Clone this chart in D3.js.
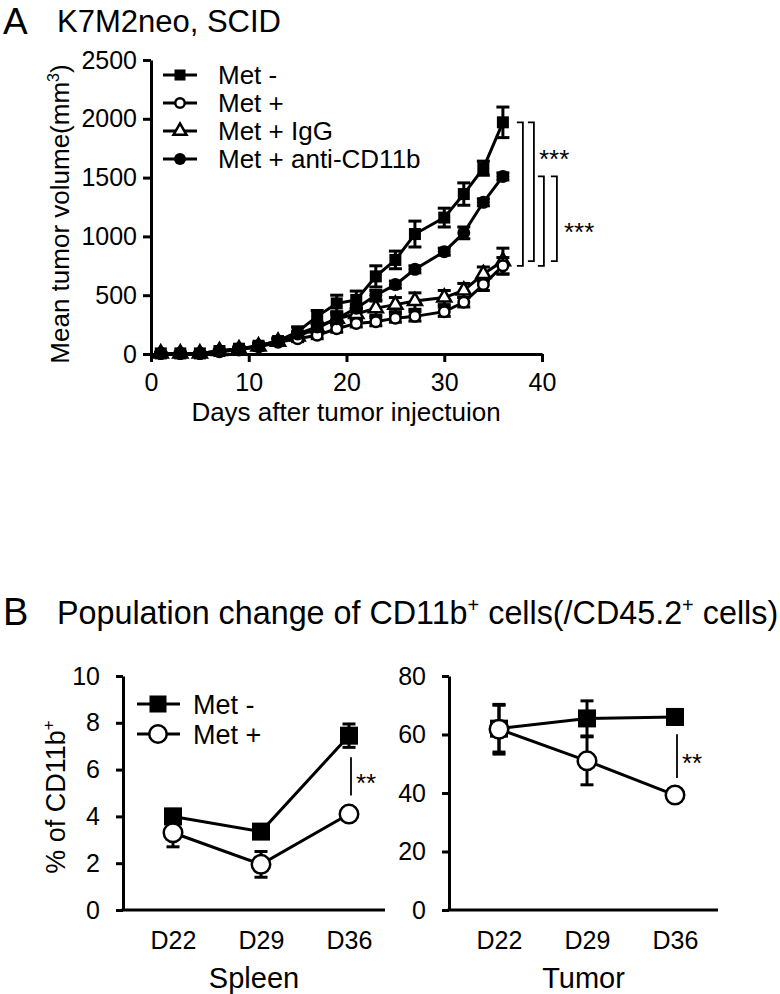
<!DOCTYPE html>
<html><head><meta charset="utf-8">
<script src="https://cdn.jsdelivr.net/npm/d3@7"></script>
<style>
body{margin:0;background:#fff}
svg{display:block}
text{font-family:"Liberation Sans",Arial,Helvetica,sans-serif;fill:#000}
</style>
</head><body>
<svg id="c" width="780" height="994"></svg>
<script>
// ---------- Panel A data ----------
const days = [1,3,5,7,9,11,13,15,17,19,21,23,25,27,30,32,34,36];
const metMinus     = [5,5,5,25,45,70,110,190,320,430,460,660,800,1020,1160,1360,1580,1970];
const metMinusErr  = [10,10,10,15,20,25,30,40,50,70,75,90,75,110,80,95,60,130];
const metPlus      = [5,5,5,20,35,60,100,130,160,215,260,275,305,320,360,440,590,750];
const metPlusErr   = [5,5,5,10,15,20,25,25,30,30,30,35,35,40,40,40,50,70];
const metIgG       = [5,5,5,25,40,65,105,150,220,300,340,390,420,450,480,540,680,790];
const metIgGErr    = [5,5,5,10,15,20,25,30,40,50,50,60,60,70,60,60,60,110];
const metAnti      = [5,5,5,25,45,70,110,170,230,300,390,500,590,720,870,1030,1290,1510];
const metAntiErr   = [5,5,5,10,10,15,20,20,25,30,30,40,30,30,30,50,30,30];
const seriesNamesA = ["Met -","Met +","Met + IgG","Met + anti-CD11b"];
const xTicksA = [0,10,20,30,40];
const yTicksA = [0,500,1000,1500,2000,2500];

// ---------- Panel B data ----------
const dayCats = ["D22","D29","D36"];
const spleenMinus    = [4.0, 3.35, 7.45];
const spleenMinusErr = [0.3, 0.25, 0.5];
const spleenPlus     = [3.3, 1.95, 4.1];
const spleenPlusErr  = [0.6, 0.55, 0.2];
const tumorMinus     = [62, 65.5, 66];
const tumorMinusErr  = [8, 6, 2.5];
const tumorPlus      = [61.8, 51, 39.3];
const tumorPlusErr   = [8.5, 8.2, 1];
const seriesNamesB = ["Met -","Met +"];
const yTicksSpleen = [0,2,4,6,8,10];
const yTicksTumor = [0,20,40,60,80];

const svg = d3.select("#c");
const LW = 3;

function marker(g, type, x, y, s) {
  if (type === "square") {
    g.append("rect").attr("x", x - s/2).attr("y", y - s/2).attr("width", s).attr("height", s).attr("fill", "#000");
  } else if (type === "circleOpen") {
    g.append("circle").attr("cx", x).attr("cy", y).attr("r", s/2 - 1.25).attr("fill", "#fff").attr("stroke", "#000").attr("stroke-width", 2.5);
  } else if (type === "circleFilled") {
    g.append("circle").attr("cx", x).attr("cy", y).attr("r", s/2).attr("fill", "#000");
  } else if (type === "triangleOpen") {
    const area = Math.sqrt(3)/4 * s * s;
    g.append("path").attr("d", d3.symbol(d3.symbolTriangle, area)()).attr("transform", `translate(${x},${y})`)
      .attr("fill", "#fff").attr("stroke", "#000").attr("stroke-width", 2.5).attr("stroke-linejoin", "miter");
  }
}

function errbar(g, x, y0, y1, cap) {
  g.append("line").attr("x1", x).attr("x2", x).attr("y1", y0).attr("y2", y1).attr("stroke", "#000").attr("stroke-width", LW);
  [y0, y1].forEach(yy => g.append("line").attr("x1", x - cap).attr("x2", x + cap).attr("y1", yy).attr("y2", yy).attr("stroke", "#000").attr("stroke-width", LW));
}

// ================= Panel A =================
const xA = d3.scaleLinear().domain([0,40]).range([151,542]);
const yA = d3.scaleLinear().domain([0,2500]).range([354,60]);

svg.append("text").attr("x", 3).attr("y", 34).attr("font-size", 37).text("A");
svg.append("text").attr("x", 57).attr("y", 32).attr("font-size", 31).text("K7M2neo, SCID");

const gA = svg.append("g");
const axYA = gA.append("g").attr("transform", `translate(${xA(0)},0)`)
  .call(d3.axisLeft(yA).tickValues(yTicksA).tickSize(8).tickSizeOuter(0).tickPadding(6).tickFormat(d3.format("d")));
const axXA = gA.append("g").attr("transform", `translate(0,${yA(0)})`)
  .call(d3.axisBottom(xA).tickValues(xTicksA).tickSize(8).tickSizeOuter(0).tickPadding(11));
[axYA, axXA].forEach(a => {
  a.selectAll("path,line").attr("stroke", "#000").attr("stroke-width", LW);
  a.selectAll("text").attr("font-size", 25).attr("font-family", '"Liberation Sans",Arial,sans-serif').attr("fill", "#000");
});

const seriesA = [
  {vals: metIgG, err: metIgGErr, type: "triangleOpen", size: 14},
  {vals: metPlus, err: metPlusErr, type: "circleOpen", size: 13},
  {vals: metAnti, err: metAntiErr, type: "circleFilled", size: 13},
  {vals: metMinus, err: metMinusErr, type: "square", size: 12}
];
const lineA = d3.line().x(d => xA(d[0])).y(d => yA(d[1]));
seriesA.forEach(s => {
  const g = gA.append("g");
  const pts = days.map((d,i) => [d, s.vals[i]]);
  g.append("path").attr("d", lineA(pts)).attr("fill", "none").attr("stroke", "#000").attr("stroke-width", LW);
  days.forEach((d,i) => errbar(g, xA(d), yA(s.vals[i] + s.err[i]), yA(Math.max(0, s.vals[i] - s.err[i])), 6.5));
  days.forEach((d,i) => marker(g, s.type, xA(d), yA(s.vals[i]), s.size));
});

// legend A
const legA = [
  {name: seriesNamesA[0], type: "square", size: 11},
  {name: seriesNamesA[1], type: "circleOpen", size: 12},
  {name: seriesNamesA[2], type: "triangleOpen", size: 13},
  {name: seriesNamesA[3], type: "circleFilled", size: 12}
];
legA.forEach((l,i) => {
  const y = 75 + i*28;
  const g = gA.append("g");
  g.append("line").attr("x1", 163).attr("x2", 197).attr("y1", y).attr("y2", y).attr("stroke", "#000").attr("stroke-width", LW);
  marker(g, l.type, 180, y, l.size);
  g.append("text").attr("x", 218).attr("y", y + 9).attr("font-size", 26).text(l.name);
});

// axis titles A
svg.append("text").attr("x", 346).attr("y", 421).attr("text-anchor", "middle").attr("font-size", 26).text("Days after tumor injectuion");
const yt = svg.append("text").attr("transform", "translate(69,214) rotate(-90)").attr("text-anchor", "middle").attr("font-size", 26);
yt.append("tspan").text("Mean tumor volume(mm");
yt.append("tspan").attr("dy", -10).attr("font-size", 16).text("3");
yt.append("tspan").attr("dy", 10).text(")");

// significance brackets A
const last = days.length - 1;
const xEnd = xA(days[last]);
const brackets = [
  {off: 20, top: metMinus[last], bot: metPlus[last]},
  {off: 31, top: metMinus[last], bot: metIgG[last]},
  {off: 41, top: metAnti[last], bot: metPlus[last]},
  {off: 54, top: metAnti[last], bot: metIgG[last]}
];
brackets.forEach(b => {
  const x = xEnd + b.off, y0 = yA(b.top), y1 = yA(b.bot);
  gA.append("path").attr("d", `M${x-6},${y0}H${x}V${y1}H${x-6}`).attr("fill", "none").attr("stroke", "#000").attr("stroke-width", 1.8);
});
svg.append("text").attr("x", 539).attr("y", 168).attr("font-size", 26).text("***");
svg.append("text").attr("x", 564).attr("y", 241).attr("font-size", 26).text("***");

// ================= Panel B =================
const tB = svg.append("text").attr("x", 57).attr("y", 624).attr("font-size", 32.3);
tB.append("tspan").text("Population change of CD11b");
tB.append("tspan").attr("dy", -12).attr("font-size", 20).text("+");
tB.append("tspan").attr("dy", 12).text(" cells(/CD45.2");
tB.append("tspan").attr("dy", -12).attr("font-size", 20).text("+");
tB.append("tspan").attr("dy", 12).text(" cells)");
svg.append("text").attr("x", 3).attr("y", 625).attr("font-size", 38).text("B");

function panelB(x0, x1, yDomain, yTicks, minus, minusErr, plus, plusErr, title, sigText) {
  const y = d3.scaleLinear().domain(yDomain).range([910, 676]);
  const x = d3.scalePoint().domain(dayCats).range([x0 + 50, x0 + 226]);
  const g = svg.append("g");
  const ay = g.append("g").attr("transform", `translate(${x0},0)`)
    .call(d3.axisLeft(y).tickValues(yTicks).tickSize(7).tickSizeOuter(0).tickPadding(16));
  ay.selectAll("path,line").attr("stroke", "#000").attr("stroke-width", LW);
  ay.selectAll("text").attr("font-size", 25).attr("font-family", '"Liberation Sans",Arial,sans-serif').attr("fill", "#000");
  g.append("line").attr("x1", x0 - 1.5).attr("x2", x1).attr("y1", y(0)).attr("y2", y(0)).attr("stroke", "#000").attr("stroke-width", LW);
  const ax = g.append("g").attr("transform", `translate(0,${y(0)})`)
    .call(d3.axisBottom(x).tickSize(0).tickPadding(21));
  ax.select(".domain").remove();
  ax.selectAll("text").attr("font-size", 25).attr("font-family", '"Liberation Sans",Arial,sans-serif').attr("fill", "#000");
  const line = d3.line().x((d,i) => x(dayCats[i])).y(d => y(d));
  [[minus, minusErr, "square", 18], [plus, plusErr, "circleOpen", 21]].forEach(([v, e, t, s]) => {
    const gs = g.append("g");
    gs.append("path").attr("d", line(v)).attr("fill", "none").attr("stroke", "#000").attr("stroke-width", LW);
    v.forEach((d,i) => errbar(gs, x(dayCats[i]), y(d + e[i]), y(d - e[i]), 6.5));
    v.forEach((d,i) => marker(gs, t, x(dayCats[i]), y(d), s));
  });
  // significance
  const xs = x(dayCats[2]) + 2;
  const ya = y(minus[2] - minusErr[2]) + 10, yb = y(plus[2] + plusErr[2]) - 14;
  g.append("line").attr("x1", xs).attr("x2", xs).attr("y1", ya).attr("y2", yb).attr("stroke", "#000").attr("stroke-width", 1.8);
  g.append("text").attr("x", xs + 5).attr("y", (ya + yb)/2 + 16).attr("font-size", 26).text(sigText);
  svg.append("text").attr("x", (x0 + x1)/2).attr("y", 988).attr("text-anchor", "middle").attr("font-size", 29).text(title);
  return {x, y};
}

panelB(123, 385, [0,10], yTicksSpleen, spleenMinus, spleenMinusErr, spleenPlus, spleenPlusErr, "Spleen", "**");
panelB(449, 718, [0,80], yTicksTumor, tumorMinus, tumorMinusErr, tumorPlus, tumorPlusErr, "Tumor", "**");

// legend B
[{name: seriesNamesB[0], type: "square", size: 17}, {name: seriesNamesB[1], type: "circleOpen", size: 20}].forEach((l,i) => {
  const y = 704 + i*30;
  svg.append("line").attr("x1", 137).attr("x2", 180).attr("y1", y).attr("y2", y).attr("stroke", "#000").attr("stroke-width", LW);
  marker(svg, l.type, 158, y, l.size);
  svg.append("text").attr("x", 193).attr("y", y + 10).attr("font-size", 27).text(l.name);
});

// y title B
const yb = svg.append("text").attr("transform", "translate(65,797) rotate(-90)").attr("text-anchor", "middle").attr("font-size", 27);
yb.append("tspan").text("% of CD11b");
yb.append("tspan").attr("dy", -11).attr("font-size", 17).text("+");
</script>
</body></html>
